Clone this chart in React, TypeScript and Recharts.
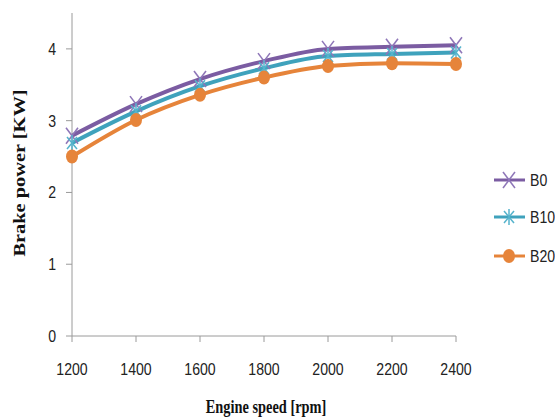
import React from "react";
import { LineChart, Line, XAxis, YAxis } from "recharts";

// Engine speed (rpm) and brake power (kW) for each blend
const rpm = [1200, 1400, 1600, 1800, 2000, 2200, 2400];
const b0 = [2.79, 3.23, 3.58, 3.83, 4.0, 4.03, 4.05];
const b10 = [2.69, 3.13, 3.48, 3.73, 3.9, 3.93, 3.95];
const b20 = [2.5, 3.01, 3.36, 3.6, 3.76, 3.8, 3.79];
const yTicks = [0, 1, 2, 3, 4];

const data = rpm.map((r, i) => ({ rpm: r, B0: b0[i], B10: b10[i], B20: b20[i] }));

const PURPLE = "#7B5CA2";
const PURPLE_MARK = "#8E76B8";
const TEAL = "#3FA2BC";
const TEAL_MARK = "#55B3CC";
const ORANGE = "#E6843A";

const TICK_FONT = "'Liberation Sans', Arial, sans-serif";
const TITLE_FONT = "'Liberation Serif', 'Times New Roman', serif";
const TEXT_COLOR = "#222";

type MarkProps = { cx?: number; cy?: number };

const CrossMark = ({ cx = 0, cy = 0 }: MarkProps) => (
  <g stroke={PURPLE_MARK} strokeWidth={1.5} fill="none">
    <line x1={cx - 6} y1={cy - 8} x2={cx + 6} y2={cy + 8} />
    <line x1={cx + 6} y1={cy - 8} x2={cx - 6} y2={cy + 8} />
  </g>
);

const StarMark = ({ cx = 0, cy = 0 }: MarkProps) => (
  <g stroke={TEAL_MARK} strokeWidth={1.5} fill="none">
    <line x1={cx - 5} y1={cy - 6} x2={cx + 5} y2={cy + 6} />
    <line x1={cx + 5} y1={cy - 6} x2={cx - 5} y2={cy + 6} />
    <line x1={cx} y1={cy - 8} x2={cx} y2={cy + 8} />
  </g>
);

const CircleMark = ({ cx = 0, cy = 0 }: MarkProps) => (
  <ellipse cx={cx} cy={cy} rx={6} ry={7} fill={ORANGE} />
);

const series = [
  { key: "B0", color: PURPLE, Mark: CrossMark },
  { key: "B10", color: TEAL, Mark: StarMark },
  { key: "B20", color: ORANGE, Mark: CircleMark },
];

const legendRows = [180, 217, 256];

// Narrow, tall tick text
const NarrowText = ({ x, y, anchor, dy, children }: any) => (
  <text
    transform={`translate(${x},${y}) scale(0.83,1)`}
    textAnchor={anchor}
    dy={dy}
    fontFamily={TICK_FONT}
    fontSize={17}
    fill={TEXT_COLOR}
  >
    {children}
  </text>
);

const XTick = ({ x, y, payload }: any) => (
  <NarrowText x={x} y={y} anchor="middle" dy="0.71em">
    {payload.value}
  </NarrowText>
);

const YTick = ({ x, y, payload }: any) => (
  <NarrowText x={x} y={y} anchor="end" dy="0.355em">
    {payload.value}
  </NarrowText>
);

const XTitle = () => (
  <text
    transform="translate(266,413) scale(0.8,1)"
    textAnchor="middle"
    fontFamily={TITLE_FONT}
    fontWeight="bold"
    fontSize={18}
    fill="#111"
  >
    Engine speed [rpm]
  </text>
);

const YTitle = () => (
  <text
    transform="translate(25,173) rotate(-90) scale(1.2,1)"
    textAnchor="middle"
    fontFamily={TITLE_FONT}
    fontWeight="bold"
    fontSize={17}
    fill="#111"
  >
    Brake power [KW]
  </text>
);

export default function App() {
  return (
    <div style={{ position: "absolute", left: 0, top: 0, width: 555, height: 419, background: "#fff" }}>
      <LineChart width={555} height={419} data={data} margin={{ top: 13, right: 99, bottom: 0, left: 0 }}>
        <XAxis
          dataKey="rpm"
          type="number"
          domain={[1200, 2400]}
          ticks={rpm}
          height={83}
          tickSize={6}
          tickMargin={21}
          stroke="#9A9A9A"
          tick={<XTick />}
          label={{ content: XTitle }}
        />
        <YAxis
          type="number"
          domain={[0, 4.5]}
          ticks={yTicks}
          width={72}
          tickSize={6}
          tickMargin={10}
          stroke="#9A9A9A"
          tick={<YTick />}
          label={{ content: YTitle }}
        />
        {series.map((s) => (
          <Line
            key={s.key}
            dataKey={s.key}
            type="monotone"
            stroke={s.color}
            strokeWidth={4}
            dot={(p: any) => <s.Mark key={`${s.key}-${p.index}`} cx={p.cx} cy={p.cy} />}
            activeDot={false}
            isAnimationActive={false}
          />
        ))}
      </LineChart>
      <svg width={65} height={110} style={{ position: "absolute", left: 490, top: 160 }}>
        {series.map((s, i) => {
          const cy = legendRows[i] - 160;
          return (
            <g key={s.key}>
              <line x1={4} y1={cy} x2={35} y2={cy} stroke={s.color} strokeWidth={3} />
              <s.Mark cx={19} cy={cy} />
              <NarrowText x={40} y={cy} anchor="start" dy="0.355em">
                {s.key}
              </NarrowText>
            </g>
          );
        })}
      </svg>
    </div>
  );
}
